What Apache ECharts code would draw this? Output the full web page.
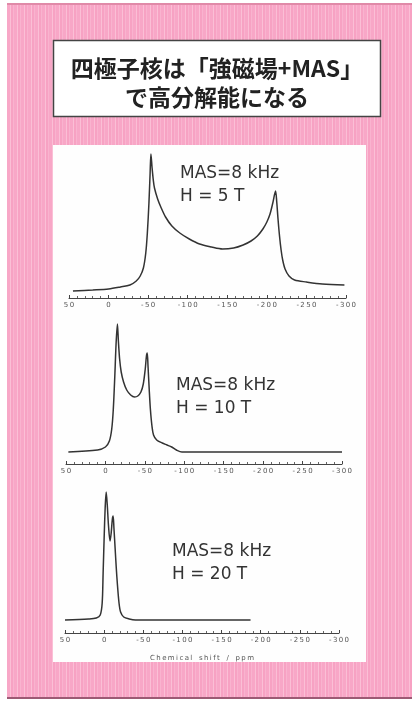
<!DOCTYPE html>
<html>
<head>
<meta charset="utf-8">
<script src="https://cdn.jsdelivr.net/npm/echarts@6/dist/echarts.min.js"></script>
<style>
  html, body { margin: 0; padding: 0; background: #fff; }
  #frame {
    position: absolute; left: 7px; top: 3px; width: 405px; height: 696px;
    box-sizing: border-box;
    background: repeating-linear-gradient(90deg,
      #f8a7c7 0, #f8a7c7 3px, #fbbfd6 3px, #fbbfd6 4px,
      #f7a2c3 4px, #f7a2c3 6px, #f9b3cf 6px, #f9b3cf 7px);
    border-top: 2px solid #e08aa8;
    border-bottom: 2px solid #9c5a74;
  }
  #chart { position: absolute; left: 0; top: 0; width: 412px; height: 703px; }
</style>
</head>
<body>
<div id="frame"></div>
<div id="chart"></div>
<script>
// chemical shift tick labels (ppm)
const tickLabels = [50, 0, -50, -100, -150, -200, -250, -300];

// H = 5 T spectrum
const shift5T = [45, 20, 0, -15, -27, -35, -40, -44, -47, -49, -51, -52.5, -53.5, -55, -56.5,
  -58, -62, -66, -72, -80, -90, -102, -115, -130, -144, -158, -170, -180, -188, -195, -200,
  -204, -207.5, -211, -212.5, -214, -216, -218, -220, -223, -228, -235, -250, -270, -298];
const int5T = [7, 8, 9, 11, 13, 17, 22, 30, 45, 65, 95, 125, 144, 130, 118,
  110, 99, 91, 81, 72, 65, 59, 54, 51, 49, 50, 53, 57, 62, 69, 76,
  84, 95, 107, 96, 80, 62, 48, 38, 29, 22, 18, 16, 14, 13];

// H = 10 T spectrum
const shift10T = [47, 10, 0, -5, -8, -10, -12, -13.5, -15.2, -16.5, -18, -20, -23, -27, -32,
  -37, -41, -45, -48, -50.5, -52, -53, -54, -55.5, -57, -59, -61, -65, -72, -78, -84, -90,
  -97, -300];
const int10T = [12, 14, 17, 23, 35, 55, 90, 120, 140, 122, 105, 92, 82, 74, 69,
  67, 68, 72, 80, 95, 108, 111, 98, 75, 55, 38, 29, 24, 21, 19, 17, 14,
  12, 12];

// H = 20 T spectrum
const shift20T = [50, 20, 10, 5, 2.5, 1.3, 0, -1.3, -2.6, -4, -5.5, -7.5, -9, -10.5, -11.5,
  -12.5, -14, -15.5, -17, -19, -21, -25, -32, -40, -187];
const int20T = [13, 14, 15, 18, 30, 60, 95, 125, 141, 128, 108, 92, 100, 114, 117,
  105, 85, 65, 48, 30, 21, 16, 14, 13, 13];

const titleLines = ['四極子核は「強磁場+MAS」', 'で高分解能になる'];
const panelLabels = [
  ['MAS=8 kHz', 'H = 5 T'],
  ['MAS=8 kHz', 'H = 10 T'],
  ['MAS=8 kHz', 'H = 20 T'],
];
const axisName = 'Chemical shift / ppm';

const zip = (xs, ys) => xs.map((x, i) => [x, ys[i]]);
const spaced = (s) => String(s).split('').join('\u2009');

const grids = [
  { left: 69, top: 148, width: 277, height: 150 },
  { left: 66, top: 314, width: 276, height: 150 },
  { left: 65, top: 483, width: 274, height: 150 },
];

const xAxes = grids.map((g, i) => ({
  type: 'value',
  gridIndex: i,
  inverse: true,
  min: -300,
  max: 50,
  interval: 50,
  name: i === 2 ? spaced(axisName).replace(/\u2009 \u2009/g, '   ') : '',
  nameLocation: 'middle',
  nameGap: 22,
  nameTextStyle: { fontFamily: 'DejaVu Sans', fontSize: 7, color: '#555' },
  axisLine: { lineStyle: { color: '#444', width: 1 } },
  axisTick: { inside: true, length: 3, lineStyle: { color: '#444' } },
  minorTick: { show: true, splitNumber: 5, length: 2, lineStyle: { color: '#666' } },
  splitLine: { show: false },
  axisLabel: {
    fontFamily: 'DejaVu Sans',
    fontSize: 7,
    color: '#555',
    margin: 4,
    formatter: (v) => tickLabels.includes(v) ? spaced(v) : '',
  },
}));

const yAxes = grids.map((g, i) => ({
  type: 'value', gridIndex: i, min: 0, max: 150, show: false,
}));

const spectra = [zip(shift5T, int5T), zip(shift10T, int10T), zip(shift20T, int20T)];

const labelGraphics = [];
const labelPos = [[180, 173], [176, 385], [172, 551]];
panelLabels.forEach((lines, i) => {
  labelGraphics.push({
    type: 'text',
    left: labelPos[i][0],
    top: labelPos[i][1] - 11,
    style: {
      text: lines.join('\n'), fontFamily: 'DejaVu Sans', fontSize: 17,
      lineHeight: 23, fill: '#333',
    },
    z: 10,
  });
});

const chart = echarts.init(document.getElementById('chart'), null, { width: 412, height: 703 });
chart.setOption({
  animation: false,
  backgroundColor: 'transparent',
  grid: grids,
  xAxis: xAxes,
  yAxis: yAxes,
  graphic: [
    {
      type: 'rect', shape: { x: 53, y: 145, width: 313, height: 517 },
      style: { fill: '#fefefe' }, z: 0,
    },
    {
      type: 'rect', shape: { x: 53.5, y: 40.5, width: 327, height: 76 },
      style: { fill: '#fff', stroke: '#444', lineWidth: 1.5 }, z: 0,
    },
    {
      type: 'text', x: 217, y: 82.5,
      style: {
        text: titleLines.join('\n'), fontFamily: 'Noto Sans CJK JP', fontSize: 23,
        fontWeight: 'bold', lineHeight: 29,
        fill: '#222', align: 'center', verticalAlign: 'middle',
      }, z: 10,
    },
    ...labelGraphics,
  ],
  series: spectra.map((d, i) => ({
    type: 'line',
    xAxisIndex: i,
    yAxisIndex: i,
    data: d,
    smooth: 0.3,
    showSymbol: false,
    lineStyle: { color: '#333', width: 1.5 },
  })),
});
</script>
</body>
</html>
